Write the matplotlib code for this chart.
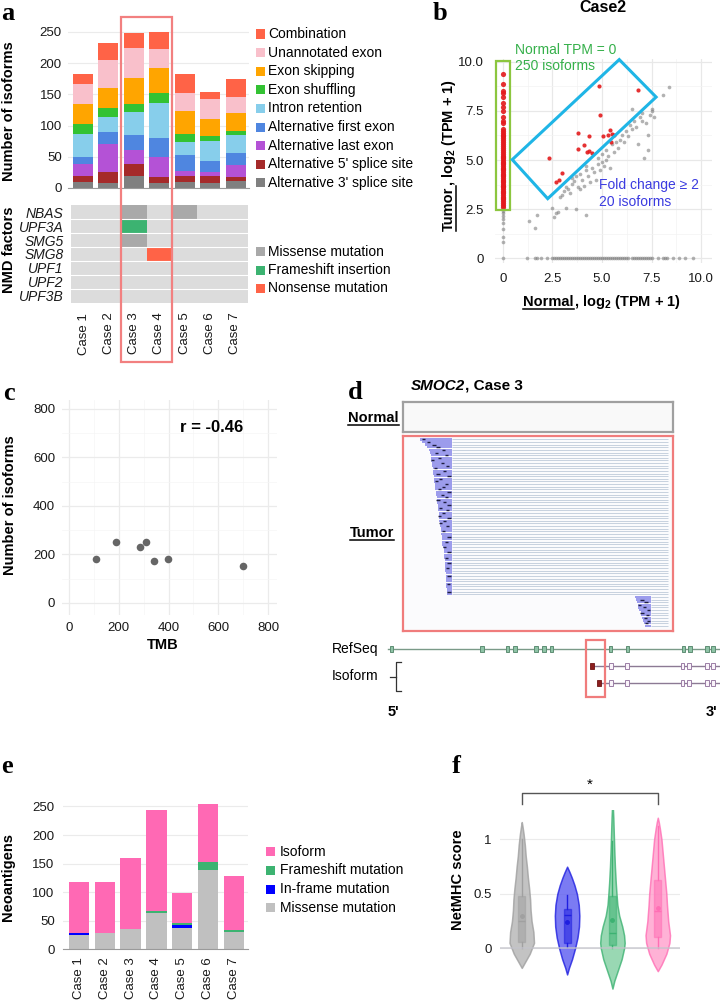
import numpy as np
import matplotlib
matplotlib.use("Agg")
import matplotlib.pyplot as plt
from matplotlib.patches import Rectangle, Polygon
from matplotlib.lines import Line2D
from matplotlib.colors import ListedColormap

plt.rcParams["font.family"] = ["Liberation Sans", "DejaVu Sans"]
plt.rcParams["mathtext.fontset"] = "custom"
plt.rcParams["mathtext.rm"] = "Liberation Sans"
plt.rcParams["mathtext.bf"] = "Liberation Sans:bold"
plt.rcParams["mathtext.it"] = "Liberation Sans:italic"

# ---------------- data ----------------
cases = ["Case 1", "Case 2", "Case 3", "Case 4", "Case 5", "Case 6", "Case 7"]

# panel a: isoform classes (bottom -> top of stack)
iso_types = ["Alternative 3' splice site", "Alternative 5' splice site",
             "Alternative last exon", "Alternative first exon", "Intron retention",
             "Exon shuffling", "Exon skipping", "Unannotated exon", "Combination"]
iso_colors = ["#808080", "#A52A2A", "#B452D6", "#4F86E0", "#87CEEB",
              "#33C233", "#FFA500", "#F9C0CB", "#FF6347"]
alt3 = [9, 8, 20, 8, 10, 8, 12]
alt5 = [11, 18, 18, 10, 10, 11, 5]
alt_last = [19, 44, 23, 31, 7, 7, 20]
alt_first = [11, 19, 24, 31, 26, 18, 19]
intron_ret = [37, 24, 36, 56, 21, 32, 29]
exon_shuffling = [15, 15, 13, 17, 13, 7, 6]
exon_skipping = [33, 33, 43, 39, 36, 27, 29]
unannotated = [31, 44, 48, 31, 30, 33, 26]
combination = [17, 27, 24, 27, 30, 11, 29]

# NMD factor mutations
nmd_genes = ["NBAS", "UPF3A", "SMG5", "SMG8", "UPF1", "UPF2", "UPF3B"]
mut_kinds = ["Missense mutation", "Frameshift insertion", "Nonsense mutation"]
mut_colors = ["#A9A9A9", "#3CB371", "#FF6347"]
nmd_hits = [("NBAS", 3, "Missense mutation"), ("NBAS", 5, "Missense mutation"),
            ("UPF3A", 3, "Frameshift insertion"), ("SMG5", 3, "Missense mutation"),
            ("SMG8", 4, "Nonsense mutation")]

# panel b: Case2 expression, log2(TPM+1)
zero_red_y = [2.6, 2.7, 2.8, 2.9, 3.0, 3.05, 3.1, 3.2, 3.3, 3.35, 3.4, 3.5, 3.6, 3.65,
              3.7, 3.8, 3.9, 3.95, 4.0, 4.1, 4.2, 4.25, 4.3, 4.4, 4.5, 4.55, 4.6, 4.7,
              4.8, 4.85, 4.9, 5.0, 5.1, 5.15, 5.2, 5.3, 5.4, 5.5, 5.6, 5.7, 5.8, 5.9,
              6.0, 6.1, 6.2, 6.3, 6.4, 6.5, 6.6, 6.9, 7.0, 7.2, 7.5, 7.7, 7.9, 8.2,
              8.4, 8.5, 8.9, 9.4]
zero_gray_y = [0, 0.8, 1.1, 1.5, 1.8, 2.0, 2.15, 2.3, 2.4, 2.5]
tumor_zero_x = [1.2, 1.6, 1.7, 1.9, 2.2, 2.5, 2.6, 2.7, 2.8, 2.9, 3.0, 3.1, 3.2, 3.3,
                3.4, 3.5, 3.6, 3.7, 3.8, 3.9, 4.0, 4.1, 4.2, 4.3, 4.4, 4.5, 4.6, 4.7,
                4.8, 4.9, 5.0, 5.1, 5.2, 5.3, 5.4, 5.5, 5.6, 5.7, 5.8, 5.9, 6.0, 6.1,
                6.2, 6.3, 6.5, 6.6, 6.7, 6.8, 6.9, 7.0, 7.1, 7.2, 7.3, 7.4, 7.5, 7.8,
                8.1, 8.2, 8.3, 8.6, 8.9, 9.2, 9.6]
both_x = [1.3, 1.6, 1.7, 2.5, 2.6, 2.7, 2.8, 3.2, 3.7, 4.2, 2.9, 3.0, 3.1, 3.3, 3.2,
          3.5, 3.5, 3.6, 3.7, 3.8, 3.9, 4.0, 4.1, 4.2, 4.3, 4.4, 4.5, 4.6, 4.7, 4.8,
          4.9, 5.0, 5.1, 5.2, 5.2, 5.3, 5.4, 5.5, 5.6, 5.7, 5.8, 5.9, 6.0, 6.1, 6.2,
          6.3, 6.4, 6.5, 6.6, 6.7, 6.8, 6.9, 7.0, 7.1, 7.2, 7.3, 7.3, 7.4, 7.5, 7.5,
          7.6, 8.1, 8.4, 6.5, 7.0, 5.0, 4.8, 4.2, 3.4, 3.9]
both_y = [1.9, 1.55, 2.2, 2.55, 2.1, 2.3, 2.35, 2.55, 2.5, 2.2, 3.1, 3.2, 3.4, 3.5, 3.6,
          3.8, 4.1, 3.95, 4.2, 3.6, 4.3, 4.0, 3.7, 4.5, 4.2, 3.9, 4.6, 4.4, 4.0, 4.8,
          4.5, 4.9, 4.7, 5.0, 5.5, 5.2, 4.6, 5.8, 5.4, 5.9, 5.6, 6.0, 6.3, 5.9, 6.5,
          6.2, 6.8, 6.6, 7.0, 6.7, 5.8, 7.2, 7.4, 5.1, 6.9, 5.5, 6.3, 7.3, 7.5, 7.6,
          7.2, 8.3, 8.7, 7.6, 7.0, 5.3, 5.1, 4.7, 3.3, 3.5]
fc_x = [2.31, 2.70, 2.83, 2.98, 3.79, 3.79, 4.10, 4.35, 4.23, 4.35, 4.84, 4.92, 5.31,
        5.38, 5.51, 5.43, 6.83, 4.50, 5.03, 5.60]
fc_y = [5.08, 3.88, 4.00, 4.34, 6.39, 5.54, 5.77, 6.21, 5.41, 5.44, 8.76, 7.30, 6.26,
        6.53, 6.31, 5.94, 8.57, 5.37, 6.20, 6.30]

# panel c
tmb = [110, 190, 285, 308, 343, 397, 701]
n_isoforms = [183, 250, 232, 250, 175, 183, 154]

# panel d: SMOC2 reads (genome units 0-100 across the track) and gene models
upper_starts = [6.3, 7.0, 8.0, 9.0, 9.5, 10.0, 10.2, 10.4, 10.5, 10.6, 10.8, 11.0, 11.0,
                11.2, 11.3, 11.5, 11.6, 11.8, 12.0, 12.0, 12.2, 12.3, 12.5, 12.5, 12.7,
                12.8, 13.0, 13.0, 13.2, 13.3, 13.5, 13.5, 13.6, 13.8, 14.0, 14.0, 14.1,
                14.3, 14.5, 14.5, 14.6, 14.8, 15.0, 15.0, 15.1, 15.2, 15.4, 15.5, 15.5,
                15.6, 15.7, 15.8, 15.9, 16.0, 16.0, 16.1, 16.1, 16.2, 16.2, 16.2]
upper_end = 18.0
lower_starts = [86.0, 86.2, 86.5, 87.0, 87.2, 87.5, 88.0, 88.2, 88.5, 89.0, 89.2, 89.5]
lower_end = 92.0
track_end = 98.0
mark_rows = [0, 1, 2, 3, 4, 5, 6, 7, 8, 9, 10, 11, 12, 13, 14, 15, 16, 17, 18, 19, 20, 21,
             22, 23, 24, 25, 26, 27, 28, 29, 30, 31, 32, 33, 35, 37, 39, 41, 43, 45, 47,
             49, 52, 55, 58, 61, 62, 63, 64, 65, 66, 67, 68, 69, 70]
mark_pos = [7.5, 9.5, 11.5, 13.0, 15.0, 12.5, 16.0, 13.5, 11.0, 14.5, 16.5, 12.0, 15.5,
            13.0, 17.0, 14.0, 12.5, 16.0, 15.0, 13.5, 17.0, 14.5, 16.0, 13.0, 15.5, 17.0,
            14.0, 16.5, 15.0, 13.5, 17.0, 15.5, 14.0, 16.5, 15.0, 17.0, 16.0, 15.5, 17.0,
            16.0, 17.0, 16.5, 17.0, 16.8, 17.0, 88.5, 90.0, 87.5, 89.5, 91.0, 88.5, 90.5,
            89.8, 91.0, 90.3]
refseq_exons = [-4.2, 29.2, 38.8, 41.5, 49.3, 52.2, 55.1, 76.9, 83.1, 103.8, 106.3,
                112.5, 114.9]
isoform_first = [70.0, 72.6]
isoform_exons = [77.0, 83.0, 103.6, 106.0, 112.5, 114.9]

# panel e
neo_missense = [25, 29, 36, 64, 38, 138, 31]
neo_inframe = [3, 0, 0, 0, 4, 0, 0]
neo_frameshift = [0, 0, 0, 3, 4, 15, 3]
neo_isoform = [89, 88, 124, 176, 53, 102, 95]
neo_types = ["Missense mutation", "In-frame mutation", "Frameshift mutation", "Isoform"]
neo_colors = ["#C0C0C0", "#0000FF", "#3CB371", "#FF69B4"]

# panel f: violin outlines (score, relative density) and box stats
f_profiles = [
    ([-0.18, -0.12, -0.05, 0.05, 0.15, 0.25, 0.35, 0.45, 0.55, 0.65, 0.75, 0.85, 0.95, 1.05, 1.12, 1.16],
     [0, 0.3, 0.65, 1.0, 0.95, 0.8, 0.72, 0.68, 0.6, 0.5, 0.42, 0.32, 0.25, 0.15, 0.06, 0]),
    ([-0.24, -0.18, -0.1, 0.0, 0.1, 0.2, 0.3, 0.4, 0.5, 0.58, 0.65, 0.7, 0.75],
     [0, 0.15, 0.4, 0.65, 0.85, 0.97, 1.0, 0.95, 0.8, 0.6, 0.38, 0.2, 0]),
    ([-0.37, -0.3, -0.2, -0.1, 0.0, 0.05, 0.12, 0.2, 0.3, 0.4, 0.5, 0.6, 0.75, 0.9, 1.05, 1.2, 1.3, 1.35],
     [0, 0.15, 0.45, 0.75, 0.95, 1.0, 0.95, 0.8, 0.55, 0.4, 0.33, 0.27, 0.2, 0.15, 0.11, 0.07, 0.03, 0]),
    ([-0.21, -0.15, -0.05, 0.05, 0.12, 0.25, 0.4, 0.5, 0.6, 0.75, 0.9, 1.0, 1.1, 1.16, 1.2],
     [0, 0.3, 0.7, 0.95, 1.0, 0.85, 0.75, 0.7, 0.62, 0.5, 0.38, 0.3, 0.17, 0.08, 0]),
]
f_q1 = [0.06, 0.05, 0.03, 0.10]
f_med = [0.25, 0.31, 0.14, 0.34]
f_q3 = [0.48, 0.36, 0.48, 0.63]
f_whislo = [0.0, 0.015, 0.0, 0.0]
f_whishi = [1.0, 0.49, 0.99, 1.12]
f_mean = [0.30, 0.245, 0.26, 0.37]
f_edge = ["#A0A0A0", "#1F1FE0", "#3DB272", "#FF6FB5"]
f_fill = ["#B4B4B4", "#5A5AF0", "#80CFA0", "#FF9FCC"]

# ---------------- figure helpers ----------------
W, H = 720, 1000
fig = plt.figure(figsize=(7.2, 10), dpi=100)
renderer = fig.canvas.get_renderer()


def add_ax(l, t, r, b):
    return fig.add_axes([l / W, 1 - b / H, (r - l) / W, (b - t) / H])


def ftext(x, y, s, **kw):
    return fig.text(x / W, 1 - y / H, s, **kw)


def fline(xs, ys, **kw):
    fig.add_artist(Line2D([x / W for x in xs], [1 - y / H for y in ys],
                          transform=fig.transFigure, **kw))


def fsquare(x, y, color, size=9):
    fig.add_artist(Rectangle((x / W, 1 - (y + size / 2) / H), size / W, size / H,
                             transform=fig.transFigure, color=color, lw=0))


def rich(x, y, parts, rotation=0, align="left", underline_first=False, color="black"):
    texts = [fig.text(0, 0, s, rotation=rotation, rotation_mode="anchor", ha="left",
                      va="baseline", color=color, **props) for s, props in parts]
    lens = []
    for t in texts:
        ext = t.get_window_extent(renderer)
        lens.append(ext.width if rotation == 0 else ext.height)
    offset = -sum(lens) / 2 if align == "center" else 0
    p = offset
    for t, L in zip(texts, lens):
        if rotation == 0:
            t.set_position(((x + p) / W, 1 - y / H))
        else:
            t.set_position((x / W, 1 - (y - p) / H))
        p += L
    if underline_first:
        L = lens[0]
        if rotation == 0:
            fline([x + offset, x + offset + L], [y + 2.5, y + 2.5], color=color, lw=1.1)
        else:
            fline([x + 2.5, x + 2.5], [y - offset, y - offset - L], color=color, lw=1.1)


def clean(ax, keep_bottom=False):
    for name, sp in ax.spines.items():
        sp.set_visible(keep_bottom and name == "bottom")
    ax.tick_params(which="both", length=0, labelsize=9.5, colors="#1a1a1a")


def letter(x, y, s):
    ftext(x, y, s, fontsize=19, fontweight="bold", family="Liberation Serif", va="baseline")


BOLD = dict(fontsize=10.5, fontweight="bold")

# ---------------- panel a ----------------
ax = add_ax(68, 22, 248.5, 188)
pos = np.arange(len(cases))
bottom = np.zeros(len(cases))
for vals, col in zip([alt3, alt5, alt_last, alt_first, intron_ret, exon_shuffling,
                      exon_skipping, unannotated, combination], iso_colors):
    ax.bar(pos, vals, 0.78, bottom=bottom, color=col, lw=0, zorder=2)
    bottom += np.array(vals)
ax.set_xlim(-0.58, 6.5)
ax.set_ylim(0, 266)
ax.set_yticks([0, 50, 100, 150, 200, 250])
ax.set_xticks([])
ax.grid(axis="y", color="#EBEBEB", lw=0.8)
ax.set_axisbelow(True)
clean(ax, keep_bottom=True)
ax.spines["bottom"].set_color("#9a9a9a")
ax.tick_params(axis="y", pad=4.5)
ftext(9, 111, "Number of isoforms", rotation=90, ha="center", va="center", **BOLD)
letter(1, 20, "a")

for i, (lab, col) in enumerate(zip(iso_types[::-1], iso_colors[::-1])):
    y = 34 + i * 18.6
    fsquare(256, y, col)
    ftext(268, y, lab, va="center", fontsize=10)

# heatmap
axh = add_ax(71, 205, 248, 303)
mat = np.zeros((len(nmd_genes), len(cases)))
for gene, case, kind in nmd_hits:
    mat[nmd_genes.index(gene), case - 1] = mut_kinds.index(kind) + 1
cmap = ListedColormap(["#DCDCDC"] + mut_colors)
axh.pcolormesh(mat, cmap=cmap, vmin=-0.5, vmax=3.5)
for r in range(1, len(nmd_genes)):
    axh.axhline(r, color="white", lw=0.8)
axh.set_xlim(0, 7)
axh.set_ylim(7, 0)
axh.set_yticks(np.arange(7) + 0.5, nmd_genes, fontstyle="italic")
axh.set_xticks(np.arange(7) + 0.5, cases, rotation=90)
clean(axh)
axh.tick_params(axis="y", pad=5.5, labelsize=10)
axh.tick_params(axis="x", pad=7)
ftext(9, 250, "NMD factors", rotation=90, ha="center", va="center", **BOLD)
for i, (lab, col) in enumerate(zip(mut_kinds, mut_colors)):
    y = 251.7 + i * 18.3
    fsquare(256, y, col)
    ftext(268, y, lab, va="center", fontsize=10)

fig.add_artist(Rectangle((121 / W, 1 - 362 / H), 51 / W, 345 / H, transform=fig.transFigure,
                         fill=False, edgecolor="#F28080", lw=1.6))

# ---------------- panel b ----------------
axb = add_ax(495, 59, 712, 263)
axb.set_xlim(-0.4, 10.55)
axb.set_ylim(-0.25, 10.15)
tk = [0, 2.5, 5, 7.5, 10]
tl = ["0", "2.5", "5.0", "7.5", "10.0"]
axb.set_xticks(tk, tl)
axb.set_yticks(tk, tl)
axb.set_xticks([1.25, 3.75, 6.25, 8.75], minor=True)
axb.set_yticks([1.25, 3.75, 6.25, 8.75], minor=True)
axb.grid(which="major", color="#E8E8E8", lw=0.9)
axb.grid(which="minor", color="#F3F3F3", lw=0.5)
axb.set_axisbelow(True)
clean(axb)
axb.tick_params(axis="y", pad=8)
axb.tick_params(axis="x", pad=7)
gray_kw = dict(s=7, color="#7f7f7f", alpha=0.6, lw=0)
axb.scatter(tumor_zero_x, np.zeros(len(tumor_zero_x)), **gray_kw)
axb.scatter(np.zeros(len(zero_gray_y)), zero_gray_y, **gray_kw)
axb.scatter(both_x, both_y, **gray_kw)
axb.scatter(np.zeros(len(zero_red_y)), zero_red_y, s=14, color="#E31A1C", lw=0, alpha=0.9)
axb.scatter(fc_x, fc_y, s=9, color="#E31A1C", lw=0, alpha=0.9)
axb.add_patch(Rectangle((-0.37, 2.47), 0.74, 7.56, fill=False, edgecolor="#8CC63F",
                        lw=1.6, clip_on=False))
axb.add_patch(Polygon([(0.47, 5.02), (5.87, 10.12), (7.73, 8.21), (2.26, 3.03)],
                      closed=True, fill=False, edgecolor="#1FB5E6", lw=2.2, clip_on=False))
ftext(515, 50, "Normal TPM = 0", color="#35B04A", fontsize=10, va="center")
ftext(515, 66, "250 isoforms", color="#35B04A", fontsize=10, va="center")
ftext(599, 185, "Fold change \u2265 2", color="#3B3BE0", fontsize=10, va="center")
ftext(599, 202, "20 isoforms", color="#3B3BE0", fontsize=10, va="center")
ftext(603, 8, "Case2", ha="center", va="center", fontsize=11.5, fontweight="bold")
rest = ", log$_{\\mathbf{2}}$ (TPM + 1)"
rich(602, 306, [("Normal", BOLD), (rest, BOLD)], align="center", underline_first=True)
rich(453, 155, [("Tumor", BOLD), (rest, BOLD)], rotation=90, align="center",
     underline_first=True)
letter(433, 20, "b")

# ---------------- panel c ----------------
axc = add_ax(62, 400, 277, 615)
axc.set_xlim(-28, 836)
axc.set_ylim(-49.5, 837)
axc.set_xticks([0, 200, 400, 600, 800])
axc.set_yticks([0, 200, 400, 600, 800])
axc.set_xticks([100, 300, 500, 700], minor=True)
axc.set_yticks([100, 300, 500, 700], minor=True)
axc.grid(which="major", color="#EBEBEB", lw=0.9)
axc.grid(which="minor", color="#F5F5F5", lw=0.5)
axc.set_axisbelow(True)
clean(axc)
axc.tick_params(axis="y", pad=5)
axc.tick_params(axis="x", pad=5)
axc.scatter(tmb, n_isoforms, s=30, color="#555555", alpha=0.9, lw=0)
ftext(212, 428, "r = -0.46", ha="center", va="center", fontsize=12, fontweight="bold")
ftext(163, 645, "TMB", ha="center", va="center", **BOLD)
ftext(10, 505, "Number of isoforms", rotation=90, ha="center", va="center", **BOLD)
letter(3, 400, "c")

# ---------------- panel d ----------------
letter(348, 399, "d")
rich(411, 390, [("SMOC2", dict(fontsize=11, fontweight="bold", fontstyle="italic")),
                (", Case 3", dict(fontsize=11, fontweight="bold"))])
axn = add_ax(403, 402, 673, 432)
axn.set_facecolor("#F9F9F9")
axn.set_xticks([])
axn.set_yticks([])
for sp in axn.spines.values():
    sp.set_color("#A0A0A0")
    sp.set_linewidth(1.6)
rich(348, 422, [("Normal", BOLD)], underline_first=True)

axr = add_ax(403, 436, 673, 631)
axr.set_facecolor("#FBFBFD")
axr.set_xlim(0, 100)
axr.set_ylim(73.5, -0.8)
axr.set_xticks([])
axr.set_yticks([])
for sp in axr.spines.values():
    sp.set_color("#F07C7C")
    sp.set_linewidth(1.6)
up_rows = np.arange(len(upper_starts)) + 0.5
lo_rows = np.arange(len(lower_starts)) + len(upper_starts) + 0.5
axr.hlines(up_rows, upper_end, track_end, color="#BFCADA", lw=0.6)
axr.hlines(lo_rows, lower_end, track_end, color="#BFCADA", lw=0.6)
axr.barh(up_rows, upper_end - np.array(upper_starts), left=upper_starts, height=0.9,
         color="#9C9CEC", lw=0)
axr.barh(lo_rows, lower_end - np.array(lower_starts), left=lower_starts, height=0.9,
         color="#9C9CEC", lw=0)
mk = np.array(mark_pos)
axr.hlines(np.array(mark_rows) + 0.5, mk - 0.6, mk + 0.6, color="#1E1E40", lw=1.0)
rich(350, 537, [("Tumor", BOLD)], underline_first=True)

axg = add_ax(320, 635, 720, 700)
axg.set_xlim(-30.7, 117.4)
axg.set_ylim(3.0, -0.82)
axg.axis("off")
axg.plot([-5.6, 117.4], [0, 0], color="#7A9A88", lw=1, zorder=1)
for ex in refseq_exons:
    axg.add_patch(Rectangle((ex - 0.65, -0.2), 1.3, 0.4, facecolor="#8EC3A6",
                            edgecolor="#5E8E74", lw=0.7, zorder=2))
for row, start in enumerate(isoform_first, start=1):
    axg.plot([start, 117.4], [row, row], color="#8C7A94", lw=1, zorder=1)
    axg.add_patch(Rectangle((start - 0.75, row - 0.2), 1.5, 0.4, facecolor="#8B1E1E",
                            edgecolor="#6E1414", lw=0.6, zorder=2))
    for ex in isoform_exons:
        axg.add_patch(Rectangle((ex - 0.65, row - 0.2), 1.3, 0.4, facecolor="#FAF4FA",
                                edgecolor="#9B7EA6", lw=0.7, zorder=2))
axg.add_patch(Rectangle((67.8, -0.53), 7.0, 3.36, fill=False, edgecolor="#F07C7C",
                        lw=1.6, clip_on=False, zorder=3))
axg.plot([-0.85, -2.7, -2.7, -0.85], [0.75, 0.75, 2.5, 2.5], color="#333333", lw=0.9)
axg.plot([-2.7, -4.8], [1.63, 1.63], color="#333333", lw=0.9)
ftext(332, 649, "RefSeq", va="center", fontsize=10)
ftext(332, 676, "Isoform", va="center", fontsize=10)
ftext(388, 712, "5'", va="center", **BOLD)
ftext(706, 712, "3'", va="center", **BOLD)

# ---------------- panel e ----------------
axe = add_ax(63, 795, 248, 949.3)
bottom = np.zeros(len(cases))
for vals, col in zip([neo_missense, neo_inframe, neo_frameshift, neo_isoform], neo_colors):
    axe.bar(pos, vals, 0.79, bottom=bottom, color=col, lw=0, zorder=2)
    bottom += np.array(vals)
axe.set_xlim(-0.62, 6.55)
axe.set_ylim(0, 270)
axe.set_yticks([0, 50, 100, 150, 200, 250])
axe.set_xticks(pos, cases, rotation=90)
axe.grid(axis="y", color="#EBEBEB", lw=0.8)
axe.set_axisbelow(True)
clean(axe, keep_bottom=True)
axe.spines["bottom"].set_color("#9a9a9a")
axe.tick_params(axis="y", pad=6)
axe.tick_params(axis="x", pad=5.5)
ftext(8, 877, "Neoantigens", rotation=90, ha="center", va="center", **BOLD)
for i, (lab, col) in enumerate(zip(neo_types[::-1], neo_colors[::-1])):
    y = 851.7 + i * 18.7
    fsquare(265.5, y, col)
    ftext(280, y, lab, va="center", fontsize=10)
letter(1, 773, "e")

# ---------------- panel f ----------------
axf = add_ax(500, 810, 680, 990)
axf.set_xlim(0.52, 4.49)
axf.set_ylim(-0.383, 1.271)
vp = []
for (ys, ws), mn, md in zip(f_profiles, f_mean, f_med):
    vp.append(dict(coords=np.array(ys), vals=np.array(ws), mean=mn, median=md,
                   min=ys[0], max=ys[-1]))
parts = axf.violin(vp, positions=[1, 2, 3, 4], widths=0.54, showextrema=False)
for body, ec, fc in zip(parts["bodies"], f_edge, f_fill):
    body.set_facecolor(fc)
    body.set_edgecolor(ec)
    body.set_alpha(0.8)
    body.set_linewidth(1.1)
    body.set_zorder(2)
bstats = [dict(med=md, q1=a, q3=b, whislo=lo, whishi=hi, mean=mn, fliers=[])
          for md, a, b, lo, hi, mn in zip(f_med, f_q1, f_q3, f_whislo, f_whishi, f_mean)]
bp = axf.bxp(bstats, positions=[1, 2, 3, 4], widths=0.15, patch_artist=True,
             showfliers=False, showcaps=False, showmeans=True, manage_ticks=False)
for i, ec in enumerate(f_edge):
    bp["boxes"][i].set_facecolor(ec)
    bp["boxes"][i].set_alpha(0.55)
    bp["boxes"][i].set_edgecolor(ec)
    bp["boxes"][i].set_zorder(3)
    bp["medians"][i].set_color(ec)
    for w in bp["whiskers"][2 * i:2 * i + 2]:
        w.set_color(ec)
        w.set_linewidth(1)
    bp["means"][i].set_marker("o")
    bp["means"][i].set_markersize(2.5)
    bp["means"][i].set_markerfacecolor(ec)
    bp["means"][i].set_markeredgecolor(ec)
axf.set_yticks([0, 0.5, 1], ["0", "0.5", "1"])
axf.set_xticks([])
axf.grid(axis="y", color="#EBEBEB", lw=0.8)
axf.set_axisbelow(True)
axf.axhline(0, color="#C4C4CC", lw=1.1, alpha=0.85, zorder=4)
clean(axf)
axf.tick_params(axis="y", pad=6)
axf.plot([1, 1, 4, 4], [1.326, 1.43, 1.43, 1.326], color="#555555", lw=1, clip_on=False)
axf.text(2.5, 1.5, "*", ha="center", va="center", fontsize=11)
ftext(458, 880, "NetMHC score", rotation=90, ha="center", va="center", **BOLD)
letter(452, 773, "f")

fig.savefig("out.png", dpi=100)
